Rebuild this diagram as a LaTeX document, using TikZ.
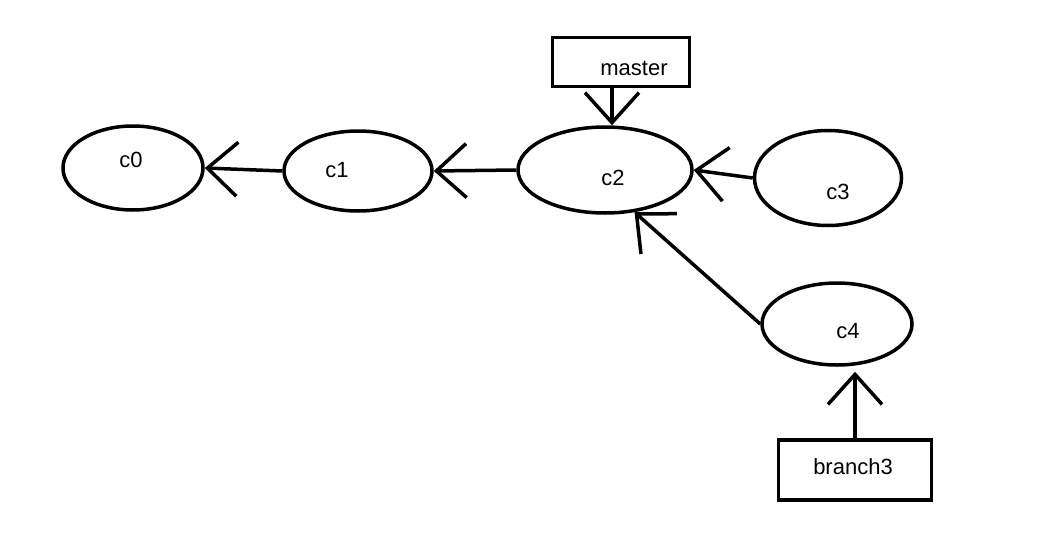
\documentclass[tikz,border=0pt]{standalone}
\usepackage{fontspec}
\setmainfont{Liberation Sans}
\usetikzlibrary{arrows.meta,shapes.geometric}

\begin{document}
\begin{tikzpicture}[x=1pt,y=-1pt,>={Straight Barb[length=30pt,width=54pt]},
    line width=3.5pt,font=\fontsize{22}{26}\selectfont,
    commit/.style={draw,ellipse,inner sep=0pt},
    ref/.style={draw,rectangle,inner sep=0pt}]

    \useasboundingbox (0,0) rectangle (1048,535);

    % Commits
    \node [commit,minimum width=140pt,minimum height=84pt] (c0) at (133,168) {};
    \node [commit,minimum width=148pt,minimum height=80pt] (c1) at (358,171) {};
    \node [commit,minimum width=174pt,minimum height=86pt] (c2) at (605,170) {};
    \node [commit,minimum width=147pt,minimum height=95pt] (c3) at (828,178) {};
    \node [commit,minimum width=150pt,minimum height=82pt] (c4) at (837,324) {};

    % Commit labels
    \node (c0lbl) at (131,160) {c0};
    \node (c1lbl) at (337,170) {c1};
    \node (c2lbl) at (613,178) {c2};
    \node (c3lbl) at (838,192) {c3};
    \node (c4lbl) at (848,331) {c4};

    % Branch pointers
    \node [ref,minimum width=137pt,minimum height=49pt] (master) at (621,62) {};
    \node (masterlbl) at (634,68) {master};
    \node [ref,minimum width=153pt,minimum height=60pt] (branch3) at (855,470) {};
    \node (branch3lbl) at (853,467) {branch3};

    % Parent links
    \draw [->] (c1.west) -- (c0.east);
    \draw [->] (c2.west) -- (c1.east);
    \draw [->] (c3.west) -- (c2.east);
    \draw [->] (c4.west) -- (c2.-55);

    % Heads
    \draw [->] ([xshift=-9pt]master.south) -- ([xshift=7pt]c2.north);
    \draw [->] (branch3.north) -- ([yshift=-5pt]branch3.north |- c4.south);

\end{tikzpicture}
\end{document}
